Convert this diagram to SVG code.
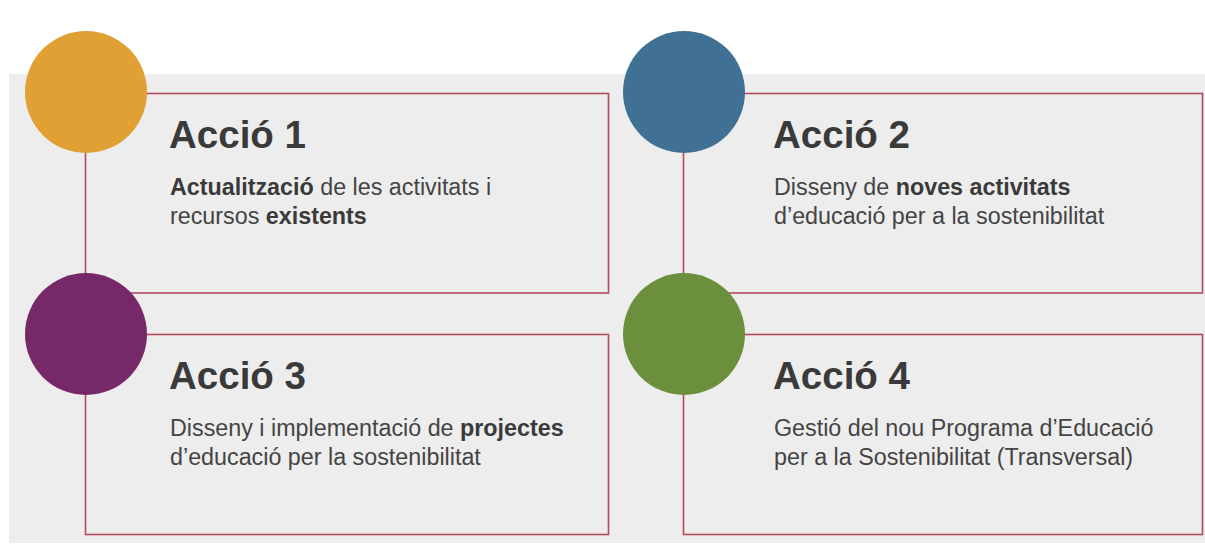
<svg xmlns="http://www.w3.org/2000/svg" width="1205" height="544" viewBox="0 0 1205 544">
<style>
.box{fill:none;stroke:#B24B5C;stroke-width:1.6}
.title{font-family:"Liberation Sans",Arial,sans-serif;font-weight:bold;font-size:38.5px;fill:#3a3a3a}
.body{font-family:"Liberation Sans",Arial,sans-serif;font-size:23.3px;fill:#444444}
.b{font-weight:bold;fill:#3a3a3a}
</style>
<rect x="0" y="0" width="1205" height="544" fill="#ffffff"/>
<rect x="9" y="74" width="1196" height="469" fill="#EDEDED"/>
<g id="accio1">
<rect class="box" x="85.5" y="93.5" width="523" height="199.5"/>
<circle cx="86" cy="92" r="61" fill="#E0A033"/>
<text class="title" x="169" y="148">Acció 1</text>
<text class="body" x="170" y="195"><tspan class="b">Actualització</tspan> de les activitats i</text>
<text class="body" x="170" y="224">recursos <tspan class="b">existents</tspan></text>
</g>
<g id="accio2">
<rect class="box" x="683.5" y="93.5" width="519" height="199.5"/>
<circle cx="684" cy="92" r="61" fill="#407195"/>
<text class="title" x="773" y="148">Acció 2</text>
<text class="body" x="774" y="195">Disseny de <tspan class="b">noves activitats</tspan></text>
<text class="body" x="774" y="224">d’educació per a la sostenibilitat</text>
</g>
<g id="accio3">
<rect class="box" x="85.5" y="334.5" width="523" height="200"/>
<circle cx="86" cy="334" r="61" fill="#772869"/>
<text class="title" x="169" y="389">Acció 3</text>
<text class="body" x="170" y="436">Disseny i implementació de <tspan class="b">projectes</tspan></text>
<text class="body" x="170" y="465">d’educació per la sostenibilitat</text>
</g>
<g id="accio4">
<rect class="box" x="683.5" y="334.5" width="519" height="200"/>
<circle cx="684" cy="334" r="61" fill="#6C8F3D"/>
<text class="title" x="773" y="389">Acció 4</text>
<text class="body" x="774" y="436">Gestió del nou Programa d’Educació</text>
<text class="body" x="774" y="465">per a la Sostenibilitat (Transversal)</text>
</g>
<g id="connectors"></g>
</svg>
